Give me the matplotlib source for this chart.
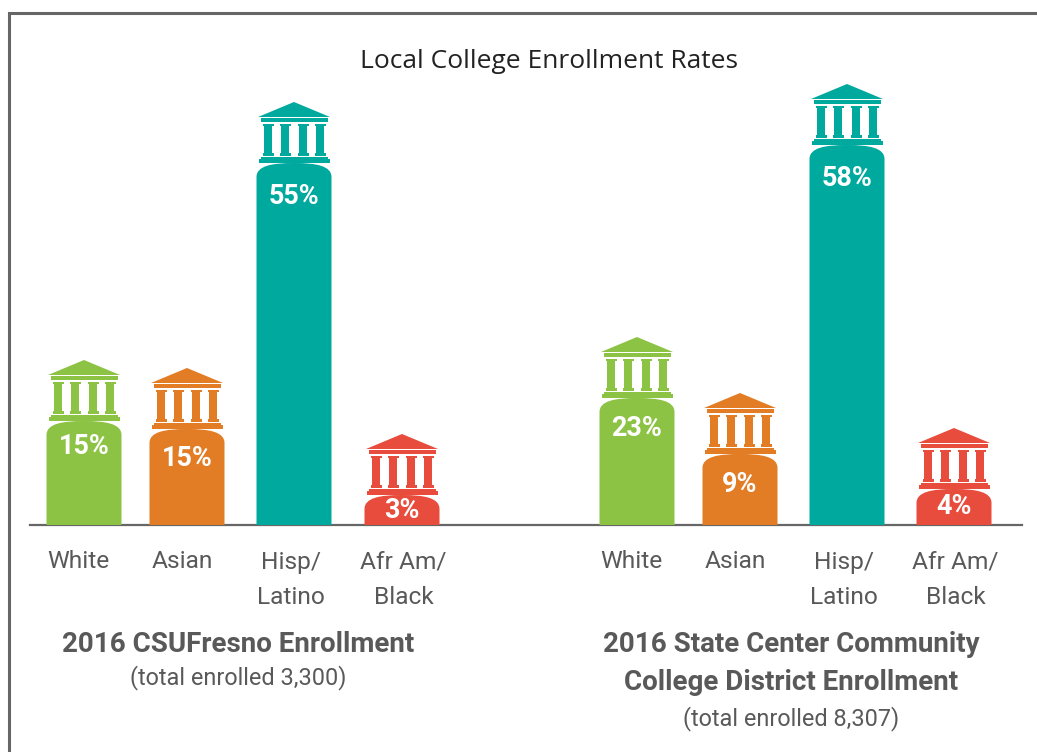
import matplotlib
matplotlib.use("Agg")
import matplotlib.pyplot as plt
from matplotlib.patches import PathPatch, Polygon, Rectangle
from matplotlib.path import Path

TITLE = "Local College Enrollment Rates"
CATEGORIES = ["White", "Asian", "Hisp/\nLatino", "Afr Am/\nBlack"]
COLORS = ["#8DC344", "#E27C25", "#00A99D", "#E84C3D"]

# bar heights, they do not follow the labels exactly
FRESNO_HEIGHTS = [104, 96, 362, 30]
FRESNO_LABELS = ["15%", "15%", "55%", "3%"]
STATE_HEIGHTS = [127, 71, 380, 36]
STATE_LABELS = ["23%", "9%", "58%", "4%"]

FRESNO_X = [84, 187, 294, 402]
STATE_X = [637, 740, 847, 954]
FRESNO_LABEL_Y = [446, 459, 196, 511]
STATE_LABEL_Y = [429, 485, 179, 506]
# the category text does not sit centred under its bar
CATEGORY_SHIFT = [-6, -5, -3, 1.5]

BASELINE = 525
BAR_WIDTH = 75
GREY = "#666666"
TEXT = "#595959"
NARROW = ["Roboto", "Liberation Sans"]


def px(size):
    return size * 0.72


def draw_temple(ax, x, top, color):
    # everything is measured up from the top of the bar
    ax.add_patch(Polygon([(x - 36, top - 46), (x, top - 61), (x + 36, top - 46)],
                         closed=True, color=color, lw=0))
    ax.add_patch(Rectangle((x - 33.5, top - 45), 67, 4, color=color, lw=0))
    for off in [-26, -9, 9, 26]:
        ax.add_patch(Rectangle((x + off - 5.5, top - 39.5), 11, 2, color=color, lw=0))
        ax.add_patch(Rectangle((x + off - 3.8, top - 38.5), 7.6, 29, color=color, lw=0))
        ax.add_patch(Rectangle((x + off - 5.5, top - 10), 11, 2.5, color=color, lw=0))
    ax.add_patch(Rectangle((x - 33.5, top - 6.5), 67, 2.5, color=color, lw=0))
    ax.add_patch(Rectangle((x - 35.5, top - 4.5), 71, 4, color=color, lw=0))


def draw_bar(ax, x, height, color):
    left, right = x - BAR_WIDTH / 2, x + BAR_WIDTH / 2
    top = BASELINE - height
    r = min(14, height * 0.5)
    verts = [(left, BASELINE), (left, top + r), (left, top + r * 0.2), (x - 22, top),
             (x, top), (x + 22, top), (right, top + r * 0.2), (right, top + r),
             (right, BASELINE), (left, BASELINE)]
    codes = [Path.MOVETO, Path.LINETO, Path.CURVE4, Path.CURVE4, Path.CURVE4,
             Path.CURVE4, Path.CURVE4, Path.CURVE4, Path.LINETO, Path.CLOSEPOLY]
    ax.add_patch(PathPatch(Path(verts, codes), facecolor=color, lw=0, zorder=3))


def draw_group(ax, xs, heights, labels, label_ys):
    rows = zip(xs, heights, labels, label_ys, CATEGORIES, COLORS, CATEGORY_SHIFT)
    for x, h, lab, ly, cat, color, shift in rows:
        draw_bar(ax, x, h, color)
        draw_temple(ax, x, BASELINE - h, color)
        ax.text(x, ly, lab, color="white", fontsize=px(27), fontweight="bold",
                family=NARROW, ha="center", va="center", zorder=4)
        for line, y in zip(cat.split("\n"), [562, 598]):
            ax.text(x + shift, y, line, color=TEXT, fontsize=px(24.5), family=NARROW,
                    ha="center", va="center")


fig = plt.figure(figsize=(10.37, 7.52), dpi=100)
ax = fig.add_axes([0, 0, 1, 1])
ax.set_xlim(0, 1037)
ax.set_ylim(752, 0)
ax.axis("off")

# frame, open on the right and at the bottom
ax.plot([9, 9, 1037], [752, 13, 13], color=GREY, lw=2.2, solid_joinstyle="miter")
ax.plot([30, 1022], [BASELINE, BASELINE], color=GREY, lw=1.6, zorder=1)

ax.text(549, 61, TITLE, color="#222222", fontsize=px(26.4), family=["Open Sans"],
        ha="center", va="center")

draw_group(ax, FRESNO_X, FRESNO_HEIGHTS, FRESNO_LABELS, FRESNO_LABEL_Y)
draw_group(ax, STATE_X, STATE_HEIGHTS, STATE_LABELS, STATE_LABEL_Y)

ax.text(238, 644, "2016 CSUFresno Enrollment", color=TEXT, fontsize=px(27.7),
        fontweight="bold", family=NARROW, ha="center", va="center")
ax.text(238, 678, "(total enrolled 3,300)", color=TEXT, fontsize=px(23.5),
        family=NARROW, ha="center", va="center")
ax.text(791, 645, "2016 State Center Community", color=TEXT, fontsize=px(27.7),
        fontweight="bold", family=NARROW, ha="center", va="center")
ax.text(791, 682, "College District Enrollment", color=TEXT, fontsize=px(27.7),
        fontweight="bold", family=NARROW, ha="center", va="center")
ax.text(791, 719, "(total enrolled 8,307)", color=TEXT, fontsize=px(23.5),
        family=NARROW, ha="center", va="center")

fig.savefig("out.png", dpi=100)
